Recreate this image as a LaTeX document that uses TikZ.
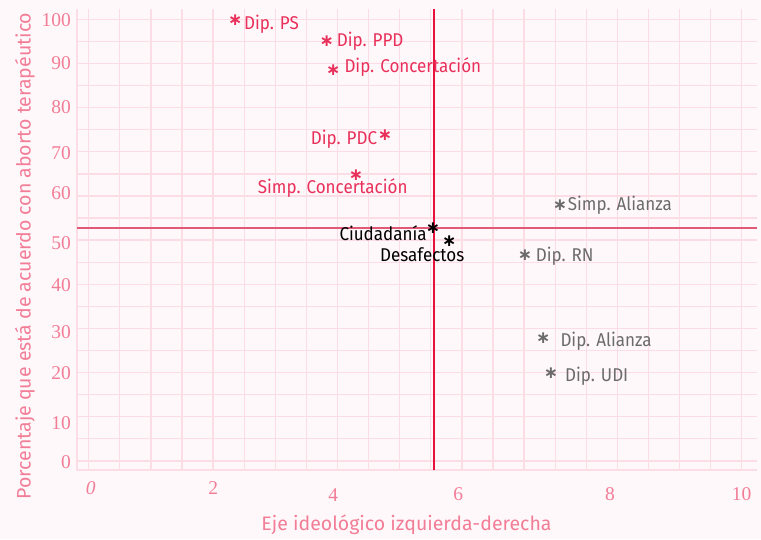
\documentclass[tikz,border=0pt]{standalone}
\usepackage{fontspec}
\setmainfont{Fira Sans}[FakeStretch=0.92]
\newfontfamily\titlefont{Fira Sans}
\newfontfamily\numfont{Liberation Serif}
\newfontfamily\symfont{DejaVu Sans}
\usetikzlibrary{positioning}
\definecolor{bgPink}{HTML}{FFF8FA}
\definecolor{gridPink}{HTML}{FCDCE5}
\definecolor{axisPink}{HTML}{F27D97}
\definecolor{leftRed}{HTML}{E8305A}
\definecolor{rightGrey}{HTML}{6B6B6B}
\definecolor{crossRed}{HTML}{E8103C}
\definecolor{crossPink}{HTML}{E05A78}
\tikzset{gridline/.style={draw=gridPink, line width=1.3pt}}
\tikzset{point/.style={inner sep=0pt, font=\symfont\bfseries\fontsize{17}{17}\selectfont}}
\tikzset{label/.style={inner sep=0pt, anchor=base west, font=\fontsize{18.5}{20}\selectfont}}
\tikzset{tick/.style={inner sep=0pt, text=axisPink, font=\numfont\fontsize{19.5}{20}\selectfont}}
\tikzset{axistitle/.style={inner sep=0pt, text=axisPink, font=\titlefont\fontsize{19.5}{20}\selectfont}}

\begin{document}
\begin{tikzpicture}[x=1pt, y=-1pt]

    \fill [bgPink] (0,0) rectangle (761,539);
    \useasboundingbox (0,0) rectangle (761,539);

    % grid
    \foreach \i in {0,...,21}
        \draw [gridline] ({88.7+31.1*\i},9.3) -- ({88.7+31.1*\i},470);
    \foreach \j in {0,...,20}
        \draw [gridline] (77,{19.3+22.08*\j}) -- (757,{19.3+22.08*\j});
    \draw [gridline] (77,9.3) -- (77,470) -- (757,470);

    % means
    \coordinate (crossTop) at (434,9.3);
    \coordinate (crossBottom) at (434,470);
    \coordinate (crossLeft) at (77,228);
    \coordinate (crossRight) at (757,228);
    \draw [crossPink, line width=1.6pt] (crossLeft) -- (crossRight);
    \draw [crossRed, line width=1.2pt] (crossTop) -- (crossBottom);

    % ticks
    \foreach \v/\y in {100/20, 90/63.3, 80/107.3, 70/152.7, 60/193.3, 50/242.7,
                       40/285, 30/331.7, 20/373.3, 10/422.7, 0/461.7}
        \node [tick, anchor=east] (yTick\v) at (71,\y) {\v};
    \node [tick] (xTick0) at (90.7,488.3) {\itshape 0};
    \node [tick] (xTick2) at (213.3,488.3) {2};
    \node [tick] (xTick4) at (333.3,495) {4};
    \node [tick] (xTick6) at (458.3,494) {6};
    \node [tick] (xTick8) at (610,494) {8};
    \node [tick] (xTick10) at (741.7,494) {10};

    \node [axistitle] (xTitle) at (406.5,525) {Eje ideológico izquierda-derecha};
    \node [axistitle, rotate=90] (yTitle) at (25,256) {Porcentaje que está de acuerdo con aborto terapéutico};

    % left parties
    \node [point, text=leftRed] (dipPS) at (235.3,20) {∗};
    \node [label, text=leftRed] (dipPSLabel) at (244,29.3) {Dip. PS};
    \node [point, text=leftRed] (dipPPD) at (326.7,41) {∗};
    \node [label, text=leftRed] (dipPPDLabel) at (336.7,46.7) {Dip. PPD};
    \node [point, text=leftRed] (dipConc) at (333.3,70.5) {∗};
    \node [label, text=leftRed] (dipConcLabel) at (344.3,72.7) {Dip. Concertación};
    \node [point, text=leftRed] (dipPDC) at (385,135) {∗};
    \node [label, text=leftRed] (dipPDCLabel) at (310.7,144) {Dip. PDC};
    \node [point, text=leftRed] (simpConc) at (356,175) {∗};
    \node [label, text=leftRed] (simpConcLabel) at (257.7,193.3) {Simp. Concertación};

    % citizens
    \node [point] (ciud) at (433,228.3) {∗};
    \node [label] (ciudLabel) at (339.3,240.7) {Ciudadanía};
    \node [point] (desaf) at (449.3,240.7) {∗};
    \node [label] (desafLabel) at (380,261.7) {Desafectos};

    % right parties
    \node [point, text=rightGrey] (simpAlianza) at (560,205) {∗};
    \node [label, text=rightGrey] (simpAlianzaLabel) at (567.7,210) {Simp. Alianza};
    \node [point, text=rightGrey] (dipRN) at (525,255) {∗};
    \node [label, text=rightGrey] (dipRNLabel) at (535.7,261.7) {Dip. RN};
    \node [point, text=rightGrey] (dipAlianza) at (543.3,338.3) {∗};
    \node [label, text=rightGrey] (dipAlianzaLabel) at (560.3,346) {Dip. Alianza};
    \node [point, text=rightGrey] (dipUDI) at (551,373.3) {∗};
    \node [label, text=rightGrey] (dipUDILabel) at (565,381) {Dip. UDI};

\end{tikzpicture}
\end{document}
